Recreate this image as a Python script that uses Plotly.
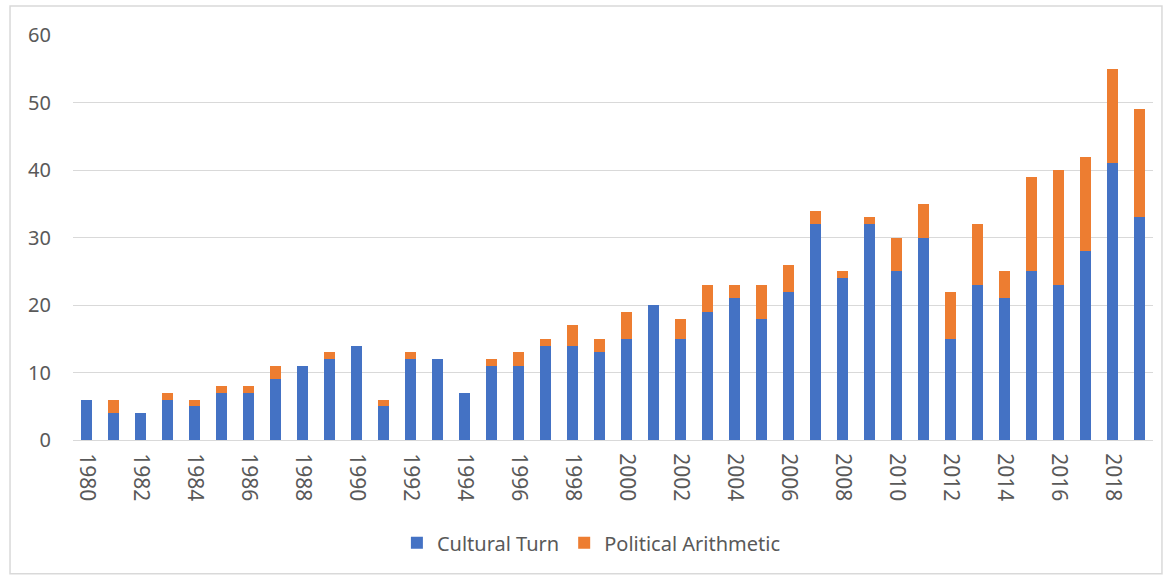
import plotly.graph_objects as go

years = list(range(1980, 2020))
cultural_turn = [6, 4, 4, 6, 5, 7, 7, 9, 11, 12, 14, 5, 12, 12, 7, 11, 11, 14, 14, 13,
                 15, 20, 15, 19, 21, 18, 22, 32, 24, 32, 25, 30, 15, 23, 21, 25, 23, 28, 41, 33]
political_arithmetic = [0, 2, 0, 1, 1, 1, 1, 2, 0, 1, 0, 1, 1, 0, 0, 1, 2, 1, 3, 2,
                        4, 0, 3, 4, 2, 5, 4, 2, 1, 1, 5, 5, 7, 9, 4, 14, 17, 14, 14, 16]
y_ticks = [0, 10, 20, 30, 40, 50, 60]

FONT = "Noto Sans"
GREY = "#595959"

fig = go.Figure()
fig.add_trace(go.Bar(x=years, y=cultural_turn, name="Cultural Turn",
                     marker=dict(color="#4472C4", line=dict(width=0))))
fig.add_trace(go.Bar(x=years, y=political_arithmetic, name="Political Arithmetic",
                     marker=dict(color="#ED7D31", line=dict(width=0))))

fig.update_layout(
    barmode="stack",
    bargap=0.6,
    width=1168, height=576,
    margin=dict(l=73, r=15, t=35, b=136),
    paper_bgcolor="white", plot_bgcolor="white",
    font=dict(family=FONT, size=20, color=GREY),
    xaxis=dict(
        range=[1979.5, 2019.5],
        tickmode="linear", tick0=1980, dtick=2,
        tickangle=90,
        showgrid=False, zeroline=False,
        showline=True, linecolor="#d9d9d9", linewidth=1,
        ticks="", ticklabelstandoff=8,
        tickfont=dict(size=21, color=GREY, family=FONT),
    ),
    yaxis=dict(
        range=[0, 60],
        tickvals=y_ticks,
        showgrid=True, gridcolor="#d9d9d9", gridwidth=1,
        zeroline=False, showline=False,
        ticks="", ticklabelstandoff=21,
        tickfont=dict(size=20, color=GREY, family=FONT),
    ),
    legend=dict(orientation="h", x=0.48, xanchor="center", y=-0.254, yanchor="middle",
                font=dict(size=20, color=GREY, family=FONT),
                itemwidth=30, traceorder="normal"),
    shapes=[dict(type="rect", xref="paper", yref="paper",
                 x0=-0.0583, x1=1.0083, y0=-0.33, y1=1.0716,
                 line=dict(color="#d9d9d9", width=1.5), fillcolor="rgba(0,0,0,0)",
                 layer="below")],
    showlegend=True,
)

fig.write_html("out.html")
